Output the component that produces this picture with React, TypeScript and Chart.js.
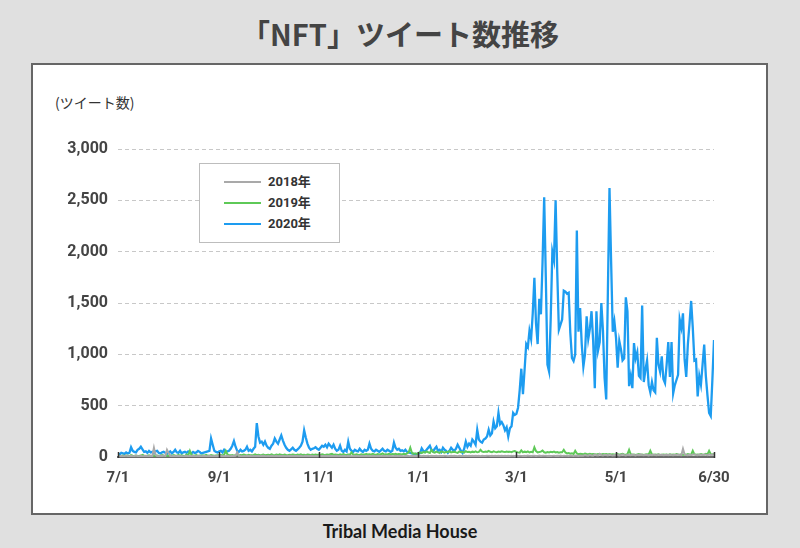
import React, { useEffect, useRef } from 'react';
import { Chart, registerables } from 'chart.js';
Chart.register(...registerables);

// Days from 7/1 (index 0) to 6/30 (index 365)
const tickDays = [0, 62, 123, 184, 244, 305, 365];
const tickLabels = ['7/1', '9/1', '11/1', '1/1', '3/1', '5/1', '6/30'];

const seriesNames = ['2018年', '2019年', '2020年'];
const seriesColors = ['#a9a9a9', '#5ec957', '#1d9cf0'];

const yMax = 3000;
const yStep = 500;

const gray2018 = [
  10,8,12,6,9,15,10,8,12,7,10,14,9,6,11,8,10,13,7,9,12,8,90,20,10,8,12,9,14,10,70,
  40,10,8,12,7,9,11,8,10,6,9,12,8,10,7,11,9,8,12,10,7,9,11,8,10,13,9,7,10,8,12,
  9,11,8,10,7,12,9,8,11,10,12,45,12,9,7,10,8,11,9,12,8,10,7,9,11,8,10,12,9,8,
  10,8,12,9,7,11,8,10,9,12,8,7,10,9,11,8,12,9,10,7,11,8,9,12,10,8,11,9,7,10,8,
  9,11,8,10,12,7,9,11,8,10,9,12,8,10,7,11,9,8,12,10,8,9,11,7,10,8,12,9,10,8,
  11,9,8,12,10,7,9,11,8,10,12,9,8,11,10,7,9,12,8,10,11,9,8,10,12,9,7,11,10,8,9,
  10,12,8,11,9,10,13,8,12,10,9,11,8,12,10,9,13,11,8,10,12,9,11,10,8,12,9,11,10,13,9,
  11,10,12,9,13,10,11,8,12,10,9,13,11,10,12,9,11,10,13,9,12,10,11,9,12,10,13,11,10,
  12,10,13,11,9,12,10,14,11,10,13,12,9,11,14,10,12,11,13,10,12,9,11,13,10,12,11,14,10,12,11,
  13,11,15,12,10,14,12,11,15,13,12,18,14,12,20,15,13,25,16,14,30,18,15,22,20,16,24,18,15,20,
  18,22,16,20,25,18,15,22,19,17,24,20,16,21,18,25,20,17,22,19,15,21,18,24,20,17,23,19,22,18,20,
  21,18,24,20,17,22,19,25,20,18,80,25,20,17,23,19,22,26,20,18,24,21,19,25,22,18,23,20,24,21,
];

const green2019 = [
  10,12,8,15,10,14,12,9,18,12,10,15,11,9,14,20,12,10,13,16,11,9,14,12,15,10,13,18,12,10,14,
  12,15,10,18,14,11,20,13,16,12,10,25,15,60,20,12,14,18,11,15,13,16,12,20,14,10,18,15,12,14,16,
  18,20,15,22,60,25,18,16,20,14,18,22,15,20,17,24,19,15,21,18,16,20,25,18,22,17,19,23,18,20,
  22,18,25,20,17,23,19,26,21,18,24,20,17,22,19,25,21,18,23,20,26,19,22,18,24,21,17,23,20,25,19,
  24,20,26,22,19,25,21,27,30,20,24,22,19,26,21,28,23,20,25,22,45,24,21,27,23,20,26,22,25,28,
  24,27,22,30,25,21,28,24,26,35,23,27,25,30,24,28,26,32,25,29,27,24,30,26,35,45,90,40,30,35,28,
  40,45,38,50,42,55,46,40,70,48,42,52,45,40,55,48,43,50,46,58,44,48,52,45,40,54,47,50,43,56,48,
  50,45,52,48,55,46,50,70,52,48,54,50,60,51,46,55,50,47,53,49,56,51,48,54,50,52,47,55,58,
  50,45,42,65,46,52,48,55,44,50,46,95,58,44,48,52,62,46,42,48,44,50,46,52,44,48,42,46,46,70,44,
  35,38,32,36,30,60,34,28,32,30,26,34,30,28,32,26,30,28,25,30,27,24,28,26,30,25,28,24,27,25,
  24,28,22,26,30,24,22,28,70,26,22,25,20,24,28,22,25,20,24,26,22,60,25,20,24,22,26,20,23,25,22,
  24,20,26,22,25,21,28,24,22,26,20,25,23,28,24,22,60,26,22,25,23,28,24,22,30,26,60,28,24,30,
];

const blue2020 = [
  30,25,40,35,30,45,35,40,95,60,50,45,70,80,100,75,50,55,40,60,45,50,35,55,60,40,35,45,50,40,30,
  40,55,35,50,70,45,40,60,35,45,50,40,55,45,35,50,40,45,60,50,35,40,45,50,55,60,180,120,60,50,45,
  55,60,45,70,50,55,60,80,110,155,100,60,50,70,55,60,70,100,60,70,55,80,100,330,200,140,150,120,150,110,
  90,80,110,130,180,150,130,170,210,160,120,90,70,60,75,90,70,60,75,90,110,150,260,190,130,90,70,80,85,95,80,
  70,90,110,100,120,95,130,110,90,120,80,60,70,110,60,50,70,55,150,80,60,50,70,60,55,80,60,50,70,60,
  70,130,80,60,55,70,60,50,65,80,60,55,70,60,50,60,140,90,70,80,60,65,55,70,50,45,40,35,30,25,30,
  30,40,85,60,50,70,90,110,70,55,80,100,60,70,50,90,70,60,40,60,90,70,60,80,120,90,60,40,80,150,100,
  130,110,170,150,120,265,170,150,140,170,180,200,265,210,230,345,280,300,430,320,340,310,260,290,200,280,300,430,410,
  420,480,650,860,613,850,1100,1070,1230,1150,1400,1745,1300,1100,1540,1390,1900,2530,1750,900,833,1350,2000,1920,2500,1800,1240,1290,1340,1620,1610,
  1590,1600,1210,965,935,1000,2205,1220,1450,1100,880,1000,1370,1150,1250,1420,1130,670,1420,1040,1120,1500,1230,770,560,1600,2620,1900,1220,1320,
  1160,870,1130,1050,940,960,1555,1420,690,790,670,1110,960,1020,790,770,1475,730,850,940,700,630,730,650,630,1160,900,830,980,760,720,
  900,1120,780,1120,620,700,750,800,1340,1260,1400,950,780,1100,1300,1520,1260,940,950,590,790,705,900,1095,790,600,430,400,750,1140,
];

const allSeries = [gray2018, green2019, blue2020];

const tickMarks = {
  id: 'tickMarks',
  afterDraw(chart: any) {
    const xs = chart.scales.x;
    const bottom = chart.chartArea.bottom;
    const ctx = chart.ctx;
    ctx.save();
    ctx.strokeStyle = '#333';
    ctx.lineWidth = 1.5;
    tickDays.forEach((d) => {
      const x = Math.round(xs.getPixelForValue(d)) + 0.5;
      ctx.beginPath();
      ctx.moveTo(x, bottom - 5);
      ctx.lineTo(x, bottom + 1);
      ctx.stroke();
    });
    ctx.restore();
  },
};

export default function App() {
  const ref = useRef<HTMLCanvasElement>(null);

  useEffect(() => {
    if (!ref.current) return;
    const chart = new Chart(ref.current, {
      type: 'line',
      data: {
        datasets: allSeries.map((arr, k) => ({
          label: seriesNames[k],
          data: arr.map((y, i) => ({ x: i, y })),
          borderColor: seriesColors[k],
          backgroundColor: seriesColors[k],
          borderWidth: k === 2 ? 2.3 : 2,
          pointRadius: 0,
          tension: 0,
          fill: false,
        })),
      },
      options: {
        animation: false,
        responsive: false,
        events: [],
        layout: { padding: { left: 0, right: 52, top: 84, bottom: 16 } },
        plugins: { legend: { display: false }, tooltip: { enabled: false } },
        scales: {
          x: {
            type: 'linear',
            min: 0,
            max: 365,
            afterBuildTicks: (s: any) => {
              s.ticks = tickDays.map((v) => ({ value: v }));
            },
            afterFit: (s: any) => {
              s.height = 40;
            },
            ticks: {
              autoSkip: false,
              maxRotation: 0,
              padding: 12,
              color: '#444',
              font: { family: 'Roboto', weight: 'bold', size: 15 },
              callback: (_v: any, i: number) => tickLabels[i] ?? '',
            },
            grid: { display: false, drawTicks: false },
            border: { display: true, color: '#6b6b6b', width: 2 },
          },
          y: {
            min: 0,
            max: yMax,
            afterFit: (s: any) => {
              s.width = 85;
            },
            ticks: {
              stepSize: yStep,
              padding: 10,
              color: '#444',
              font: { family: 'Roboto', weight: 'bold', size: 16 },
              callback: (v: any) => Number(v).toLocaleString('en-US'),
            },
            grid: { color: '#c8c8c8', lineWidth: 1, drawTicks: false },
            border: { display: false, dash: [4, 3] },
          },
        },
      },
      plugins: [tickMarks],
    } as any);
    return () => chart.destroy();
  }, []);

  return (
    <div
      style={{
        position: 'absolute',
        left: 0,
        top: 0,
        width: 800,
        height: 548,
        background: '#e0e0e0',
        overflow: 'hidden',
        fontFamily: "Roboto, 'Noto Sans CJK JP', sans-serif",
      }}
    >
      <div
        style={{
          position: 'absolute',
          left: 0,
          top: 12,
          width: 800,
          height: 42,
          lineHeight: '42px',
          textAlign: 'center',
          fontFamily: "'Noto Sans CJK JP', sans-serif",
          fontWeight: 700,
          fontSize: 29,
          color: '#444',
        }}
      >
        「NFT」ツイート数推移
      </div>
      <div
        style={{
          position: 'absolute',
          left: 31,
          top: 63,
          width: 737,
          height: 452,
          boxSizing: 'border-box',
          background: '#fff',
          border: '2px solid #666',
        }}
      />
      <div
        style={{
          position: 'absolute',
          left: 55,
          top: 92,
          fontFamily: "'Noto Sans CJK JP', sans-serif",
          fontSize: 14,
          color: '#333',
          lineHeight: '20px',
        }}
      >
        (ツイート数)
      </div>
      <canvas
        ref={ref}
        width={733}
        height={448}
        style={{ position: 'absolute', left: 33, top: 65, width: 733, height: 448, display: 'block' }}
      />
      <div
        style={{
          position: 'absolute',
          left: 199,
          top: 163,
          width: 141,
          height: 80,
          boxSizing: 'border-box',
          background: '#fff',
          border: '1px solid #bdbdbd',
        }}
      >
        {seriesNames.map((n, k) => (
          <div key={n} style={{ position: 'absolute', left: 0, top: 8 + k * 21, height: 20, width: 139 }}>
            <div
              style={{
                position: 'absolute',
                left: 24,
                top: 9,
                width: 37,
                height: 2,
                background: seriesColors[k],
              }}
            />
            <div
              style={{
                position: 'absolute',
                left: 68,
                top: 0,
                lineHeight: '20px',
                fontSize: 13,
                fontWeight: 700,
                color: '#333',
                fontFamily: "Roboto, 'Noto Sans CJK JP', sans-serif",
              }}
            >
              {n}
            </div>
          </div>
        ))}
      </div>
      <div
        style={{
          position: 'absolute',
          left: 0,
          top: 519,
          width: 800,
          height: 24,
          lineHeight: '24px',
          textAlign: 'center',
          fontFamily: 'Lato, sans-serif',
          fontWeight: 700,
          fontSize: 18,
          color: '#1a1a1a',
        }}
      >
        Tribal Media House
      </div>
    </div>
  );
}
